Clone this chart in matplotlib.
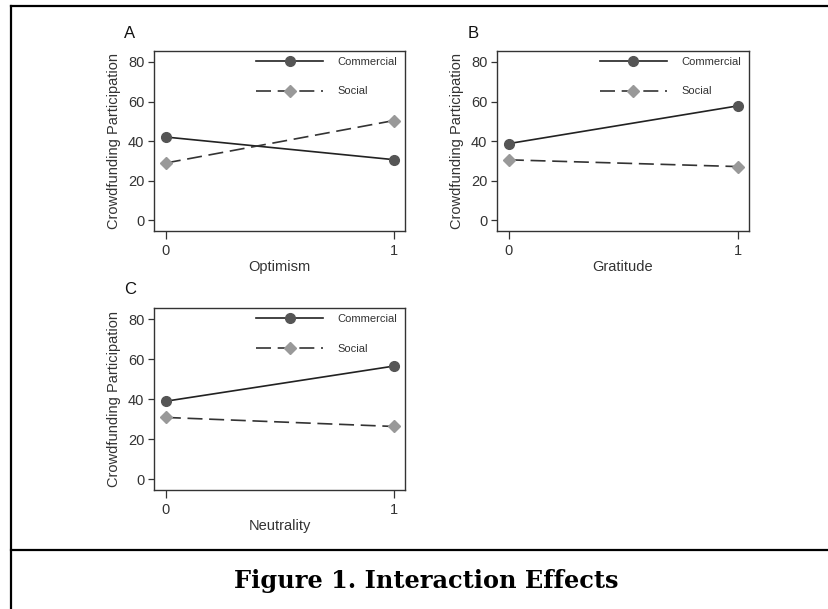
import matplotlib
matplotlib.use("Agg")
import matplotlib.pyplot as plt
from matplotlib.lines import Line2D

# ---- data ----
x_levels = [0, 1]
panels = ["A", "B", "C"]
x_labels = ["Optimism", "Gratitude", "Neutrality"]
commercial_A = [42.1, 30.7]
social_A = [29.0, 50.4]
commercial_B = [38.8, 57.8]
social_B = [30.6, 27.2]
commercial_C = [39.0, 56.5]
social_C = [30.9, 26.4]
y_ticks = [0, 20, 40, 60, 80]
series_names = ["Commercial", "Social"]
y_label = "Crowdfunding Participation"
title = "Figure 1. Interaction Effects"

W, H = 829, 609
fig = plt.figure(figsize=(W / 100, H / 100), dpi=100)
plt.rcParams['font.family'] = ['Liberation Sans', 'DejaVu Sans']

def fx(px):
    return px / W

def fy(py):
    return 1 - py / H

# axes boxes in pixels: left, top, right, bottom
boxes = [(154, 51, 405, 231), (497, 51, 749, 231), (154, 308, 405, 490)]
data = [(commercial_A, social_A), (commercial_B, social_B), (commercial_C, social_C)]
text_col = '#333333'

for i, (box, (com, soc)) in enumerate(zip(boxes, data)):
    l, t, r, b = box
    ax = fig.add_axes([fx(l), fy(b), fx(r - l), (b - t) / H])
    ax.plot(x_levels, com, color='#222222', lw=1.2, marker='o', ms=7,
            mfc='#555555', mec='#555555', label=series_names[0], zorder=3)
    ax.plot(x_levels, soc, color='#333333', lw=1.2, ls=(0, (9, 4)), marker='D', ms=6.5,
            mfc='#999999', mec='#999999', label=series_names[1], zorder=3)
    ax.set_xlim(-0.052, 1.05)
    ax.set_ylim(-5.3, 85.5)
    ax.set_xticks(x_levels)
    ax.set_yticks(y_ticks)
    ax.tick_params(axis='y', direction='out', length=4, width=0.9, pad=3,
                   labelsize=10.5, colors=text_col)
    ax.tick_params(axis='x', direction='out', length=5.5, width=0.9, pad=4,
                   labelsize=10.5, colors=text_col)
    for s in ax.spines.values():
        s.set_color('#333333')
        s.set_linewidth(1.0)
    ax.set_ylabel(y_label, fontsize=10.5, color=text_col, labelpad=5)
    ax.set_xlabel(x_labels[i], fontsize=10.5, color=text_col, labelpad=1)
    leg = ax.legend(loc='upper left', bbox_to_anchor=(0.395, 0.985), frameon=False,
                    fontsize=8, handlelength=6.0, handletextpad=1.3,
                    labelspacing=1.75, borderpad=0.3, borderaxespad=0, numpoints=1)
    for txt in leg.get_texts():
        txt.set_color(text_col)
    fig.text(fx(l - 24), fy(t - 18), panels[i], fontsize=12, color='#111111',
             ha='center', va='center')

# frame lines
fig.add_artist(Line2D([fx(11), 1], [fy(6), fy(6)], color='black', lw=1.6))
fig.add_artist(Line2D([fx(11), fx(11)], [0, fy(6)], color='black', lw=1.6))
fig.add_artist(Line2D([fx(11), 1], [fy(550), fy(550)], color='black', lw=1.6))

fig.text(fx(426), fy(581), title, fontsize=17.3, fontweight='bold',
         family=['DejaVu Serif'], ha='center', va='center', color='black')

fig.savefig("out.png", dpi=100)
